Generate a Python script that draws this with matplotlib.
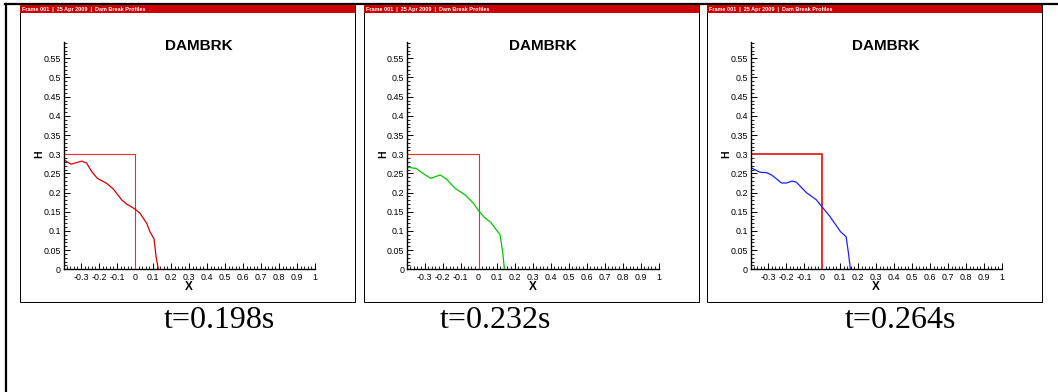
"""
Dam break profiles (DAMBRK) at three times, laid out as three Tecplot-style frames.
"""

import matplotlib

matplotlib.use("Agg")
import matplotlib.pyplot as plt
from matplotlib.patches import Rectangle
from matplotlib.lines import Line2D
from matplotlib.ticker import MultipleLocator

W, H = 1058, 392

# initial dam (reservoir) outline
DAM_X = [-0.4, 0.0, 0.0]
DAM_Y = [0.3, 0.3, 0.0]

# water surface profiles
X_T198 = [-0.394, -0.356, -0.296, -0.269, -0.241, -0.209, -0.157, -0.120, -0.074,
          -0.046, 0.0, 0.028, 0.065, 0.083, 0.106, 0.117, 0.130]
H_T198 = [0.285, 0.274, 0.282, 0.277, 0.255, 0.237, 0.224, 0.209, 0.181,
          0.170, 0.157, 0.146, 0.120, 0.098, 0.079, 0.033, 0.0]

X_T232 = [-0.393, -0.346, -0.306, -0.265, -0.213, -0.180, -0.130, -0.074, -0.028,
          0.0, 0.031, 0.069, 0.120, 0.135, 0.144]
H_T232 = [0.266, 0.263, 0.249, 0.237, 0.246, 0.236, 0.211, 0.194, 0.172,
          0.153, 0.136, 0.122, 0.090, 0.042, 0.0]

X_T264 = [-0.387, -0.344, -0.308, -0.280, -0.225, -0.197, -0.166, -0.142, -0.087,
          -0.031, 0.0, 0.042, 0.103, 0.134, 0.147, 0.158]
H_T264 = [0.263, 0.253, 0.252, 0.246, 0.225, 0.225, 0.230, 0.227, 0.200,
          0.181, 0.163, 0.139, 0.098, 0.085, 0.042, 0.0]

CAPTIONS = ["t=0.198s", "t=0.232s", "t=0.264s"]
CAPTION_X = [219, 495, 900]  # pixel centres
COLORS = ["#d40000", "#00c800", "#1e1eff"]
DAM_LW = [0.8, 0.8, 1.4]

XMIN, XMAX = -0.395, 1.0
YMIN, YMAX = 0.0, 0.593
HEADER = "Frame 001  |  25 Apr 2009  |  Dam Break Profiles"


def fx(px):
    return px / W


def fy(py):
    return 1 - py / H


def main():
    fig = plt.figure(figsize=(W / 100, H / 100), dpi=100)
    fig.patch.set_facecolor("white")

    # outer page frame (top and left edges only)
    fig.add_artist(Line2D([fx(5), fx(1058)], [fy(3.5), fy(3.5)], color="black", lw=1.6))
    fig.add_artist(Line2D([fx(6), fx(6)], [fy(3.5), fy(392)], color="black", lw=1.6))

    series = [(X_T198, H_T198), (X_T232, H_T232), (X_T264, H_T264)]
    offset = 343.5
    for i, (xs, hs) in enumerate(series):
        p0 = 20 + i * offset
        # frame shadow + border
        fig.add_artist(Rectangle((fx(p0 + 1), fy(303)), fx(335), fy(5) - fy(298),
                                 facecolor="#999999", edgecolor="none", zorder=0))
        fig.add_artist(Rectangle((fx(p0), fy(302)), fx(335), fy(5) - fy(302),
                                 facecolor="white", edgecolor="black", lw=0.7, zorder=1))
        # red header bar
        fig.add_artist(Rectangle((fx(p0), fy(12.8)), fx(335), fy(5) - fy(12.8),
                                 facecolor="#cc0000", edgecolor="none", zorder=2))
        fig.text(fx(p0 + 2), fy(9), HEADER, color="white", fontsize=4.0,
                 fontweight="bold", family="Liberation Sans", va="center", ha="left",
                 zorder=3)

        ax_left = 63.9 + i * offset
        ax_w = (XMAX - XMIN) * 180
        ax_bot = 269.3
        ax_h = (YMAX - YMIN) * 383.6
        ax = fig.add_axes([fx(ax_left), fy(ax_bot), fx(ax_w), ax_h / H])
        ax.set_facecolor("none")
        ax.set_zorder(5)

        ax.plot(DAM_X, DAM_Y, color="#e53030", lw=DAM_LW[i], clip_on=True)
        ax.plot(xs, hs, color=COLORS[i], lw=0.9)

        ax.set_xlim(XMIN, XMAX)
        ax.set_ylim(YMIN, YMAX)
        ax.set_xticks([-0.3, -0.2, -0.1, 0, 0.1, 0.2, 0.3, 0.4, 0.5, 0.6, 0.7, 0.8, 0.9, 1.0])
        ax.set_xticklabels(["-0.3", "-0.2", "-0.1", "0", "0.1", "0.2", "0.3", "0.4",
                            "0.5", "0.6", "0.7", "0.8", "0.9", "1"])
        ax.set_yticks([0, 0.05, 0.1, 0.15, 0.2, 0.25, 0.3, 0.35, 0.4, 0.45, 0.5, 0.55])
        ax.set_yticklabels(["0", "0.05", "0.1", "0.15", "0.2", "0.25", "0.3", "0.35",
                            "0.4", "0.45", "0.5", "0.55"])
        ax.xaxis.set_minor_locator(MultipleLocator(0.02))
        ax.yaxis.set_minor_locator(MultipleLocator(0.01))
        for s in ("top", "right"):
            ax.spines[s].set_visible(False)
        for s in ("left", "bottom"):
            ax.spines[s].set_linewidth(1.0)
        ax.tick_params(which="major", direction="in", length=4.6, width=0.7,
                       labelsize=6.4, pad=2, colors="black")
        ax.tick_params(which="minor", direction="in", length=2.4, width=0.6)
        ax.tick_params(axis="x", which="major", pad=3)
        for lab in ax.get_xticklabels() + ax.get_yticklabels():
            lab.set_family("Liberation Sans")

        ax.text(0.538, 0.98, "DAMBRK", transform=ax.transAxes, ha="center",
                va="center", fontsize=11, fontweight="bold", family="Liberation Sans")
        ax.text(-0.098, 0.3 / YMAX, "H", transform=ax.transAxes, ha="center",
                va="center", rotation=90, fontsize=7.5, fontweight="bold",
                family="Liberation Sans")
        ax.text(0.498, -0.078, "X", transform=ax.transAxes, ha="center",
                va="center", fontsize=8.5, fontweight="bold", family="Liberation Sans")

        fig.text(fx(CAPTION_X[i]), fy(321), CAPTIONS[i], ha="center", va="center",
                 fontsize=23, family="Liberation Serif")

    fig.savefig("out.png", dpi=100, facecolor="white")
    plt.close(fig)


if __name__ == "__main__":
    main()
